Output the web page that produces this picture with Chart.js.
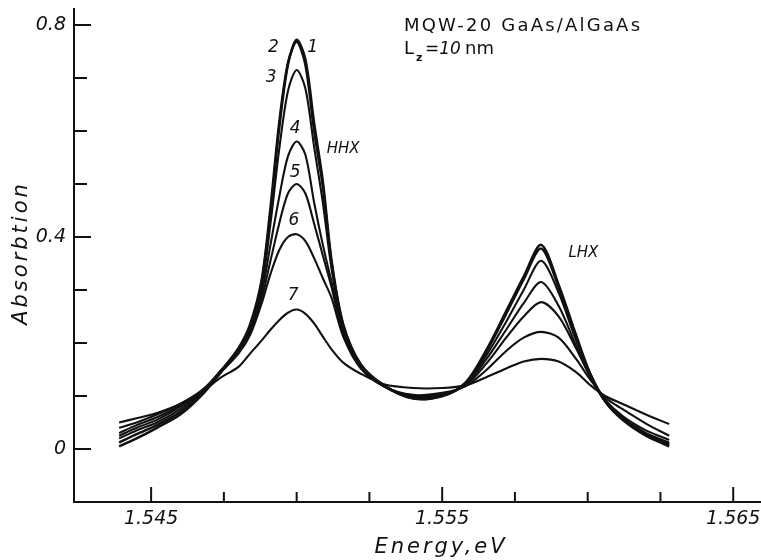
<!DOCTYPE html>
<html>
<head>
<meta charset="utf-8">
<script src="https://cdn.jsdelivr.net/npm/chart.js"></script>
<style>
  html, body { margin: 0; padding: 0; background: #fff; }
  #wrap { width: 761px; height: 560px; }
</style>
</head>
<body>
<div id="wrap"><canvas id="chart" width="761" height="560"></canvas></div>
<script>
// photon energy, eV (shared grid for all spectra)
const energy = [1.5439, 1.5445, 1.5452, 1.5460, 1.5468, 1.5474, 1.5480, 1.5484, 1.5488, 1.5491,
                1.5494, 1.5497, 1.5500, 1.5503, 1.5506, 1.5509, 1.5512, 1.5516, 1.5522, 1.5530,
                1.5540, 1.5550, 1.5558, 1.5565, 1.5572, 1.5578, 1.5584, 1.5590, 1.5596, 1.5601,
                1.5606, 1.5612, 1.5620, 1.5628];

// absorption curves 1..7
const curve1 = [0.005, 0.020, 0.040, 0.065, 0.105, 0.145, 0.188, 0.230, 0.315, 0.445,
                0.605, 0.725, 0.772, 0.735, 0.615, 0.505, 0.355, 0.235, 0.160, 0.120,
                0.095, 0.100, 0.125, 0.185, 0.260, 0.325, 0.385, 0.310, 0.215, 0.140,
                0.090, 0.055, 0.025, 0.005];
const curve2 = [0.012, 0.028, 0.045, 0.070, 0.108, 0.147, 0.190, 0.235, 0.320, 0.455,
                0.615, 0.728, 0.768, 0.725, 0.600, 0.495, 0.350, 0.233, 0.159, 0.120,
                0.096, 0.100, 0.124, 0.182, 0.255, 0.320, 0.378, 0.305, 0.210, 0.140,
                0.090, 0.056, 0.027, 0.008];
const curve3 = [0.020, 0.035, 0.050, 0.075, 0.110, 0.148, 0.188, 0.230, 0.305, 0.425,
                0.565, 0.675, 0.715, 0.680, 0.570, 0.465, 0.340, 0.228, 0.157, 0.118,
                0.097, 0.100, 0.123, 0.175, 0.240, 0.300, 0.355, 0.295, 0.205, 0.140,
                0.092, 0.058, 0.030, 0.010];
const curve4 = [0.025, 0.040, 0.055, 0.080, 0.112, 0.148, 0.186, 0.225, 0.295, 0.385,
                0.475, 0.552, 0.580, 0.555, 0.465, 0.385, 0.315, 0.222, 0.155, 0.118,
                0.098, 0.102, 0.122, 0.168, 0.225, 0.275, 0.315, 0.270, 0.195, 0.135,
                0.090, 0.058, 0.030, 0.012];
const curve5 = [0.030, 0.045, 0.060, 0.082, 0.113, 0.148, 0.185, 0.222, 0.285, 0.355,
                0.425, 0.482, 0.500, 0.482, 0.425, 0.365, 0.305, 0.217, 0.153, 0.118,
                0.100, 0.104, 0.120, 0.160, 0.210, 0.250, 0.277, 0.250, 0.190, 0.135,
                0.093, 0.062, 0.035, 0.017];
const curve6 = [0.040, 0.050, 0.065, 0.085, 0.113, 0.145, 0.180, 0.215, 0.275, 0.330,
                0.375, 0.400, 0.405, 0.392, 0.360, 0.322, 0.285, 0.212, 0.152, 0.118,
                0.102, 0.106, 0.118, 0.148, 0.185, 0.210, 0.221, 0.210, 0.170, 0.130,
                0.097, 0.075, 0.048, 0.025];
const curve7 = [0.050, 0.058, 0.068, 0.085, 0.110, 0.135, 0.155, 0.180, 0.205, 0.225,
                0.243, 0.257, 0.263, 0.255, 0.237, 0.212, 0.188, 0.163, 0.142, 0.122,
                0.115, 0.115, 0.120, 0.135, 0.152, 0.165, 0.170, 0.165, 0.145, 0.120,
                0.100, 0.085, 0.065, 0.047];

const xLabelTicks = [1.545, 1.555, 1.565];
const xMinorTicks = [1.5475, 1.550, 1.5525, 1.5575, 1.560, 1.5625];
const yLabelTicks = [0, 0.4, 0.8];
const yMinorTicks = [0.1, 0.2, 0.3, 0.5, 0.6, 0.7];

// curve numbers and peak names: [text, energy, absorption, size]
const curveLabels = [
  ['2', 1.54920, 0.758, 17], ['1', 1.55055, 0.758, 17], ['3', 1.54912, 0.700, 17],
  ['4', 1.54995, 0.605, 17], ['5', 1.54995, 0.522, 17], ['6', 1.54991, 0.430, 17],
  ['7', 1.54988, 0.290, 17], ['HHX', 1.55160, 0.566, 15], ['LHX', 1.55985, 0.370, 15]
];

const series = [curve1, curve2, curve3, curve4, curve5, curve6, curve7];
const FONT = '"DejaVu Sans", sans-serif';

const datasets = series.map((c, i) => ({
  label: String(i + 1),
  data: energy.map((e, k) => ({ x: e, y: c[k] })),
  borderColor: '#111',
  borderWidth: i < 2 ? 2.5 : 2.1,
  pointRadius: 0,
  fill: false,
  tension: 0.3
}));

// inward tick marks, axis titles and text annotations
const decor = {
  id: 'decor',
  afterDraw(chart) {
    const ctx = chart.ctx;
    const xs = chart.scales.x, ys = chart.scales.y;
    const a = chart.chartArea;
    ctx.save();
    ctx.strokeStyle = '#111';
    ctx.lineWidth = 2;
    ctx.beginPath();
    xLabelTicks.forEach(v => { const p = xs.getPixelForValue(v); ctx.moveTo(p, a.bottom); ctx.lineTo(p, a.bottom - 15); });
    xMinorTicks.forEach(v => { const p = xs.getPixelForValue(v); ctx.moveTo(p, a.bottom); ctx.lineTo(p, a.bottom - 10); });
    yLabelTicks.forEach(v => { const p = ys.getPixelForValue(v); ctx.moveTo(a.left, p); ctx.lineTo(a.left + 17, p); });
    yMinorTicks.forEach(v => { const p = ys.getPixelForValue(v); ctx.moveTo(a.left, p); ctx.lineTo(a.left + 13, p); });
    ctx.stroke();

    ctx.fillStyle = '#111';
    ctx.textAlign = 'center';
    ctx.textBaseline = 'middle';
    curveLabels.forEach(([t, e, v, s]) => {
      ctx.font = 'italic ' + s + 'px ' + FONT;
      ctx.fillText(t, xs.getPixelForValue(e), ys.getPixelForValue(v));
    });

    // axis titles
    ctx.font = 'italic 21px ' + FONT;
    ctx.letterSpacing = '3px';
    ctx.textBaseline = 'alphabetic';
    ctx.fillText('Energy,eV', 441, 553);
    ctx.save();
    ctx.translate(27, 253);
    ctx.rotate(-Math.PI / 2);
    ctx.fillText('Absorbtion', 0, 0);
    ctx.restore();

    ctx.textAlign = 'left';
    ctx.font = '18px ' + FONT;
    ctx.letterSpacing = '2.2px';
    ctx.fillText('MQW-20 GaAs/AlGaAs', 404, 31);
    ctx.letterSpacing = '0px';
    ctx.fillText('L', 404, 54);
    ctx.font = 'bold 11px ' + FONT;
    ctx.fillText('z', 416, 61);
    ctx.font = 'italic 17px ' + FONT;
    ctx.fillText('=10', 425, 54);
    ctx.font = '18px ' + FONT;
    ctx.fillText('nm', 465, 54);
    ctx.restore();
  }
};

new Chart(document.getElementById('chart'), {
  type: 'line',
  data: { datasets },
  options: {
    responsive: false,
    animation: false,
    layout: { padding: { top: 9, right: 1, left: 0, bottom: 0 } },
    plugins: { legend: { display: false }, tooltip: { enabled: false } },
    scales: {
      x: {
        type: 'linear',
        min: 1.54235,
        max: 1.56592,
        afterBuildTicks: s => { s.ticks = xLabelTicks.map(v => ({ value: v })); },
        afterFit: s => { s.height = 58; s.paddingLeft = 0; s.paddingRight = 0; },
        grid: { display: false, drawTicks: false },
        border: { display: true, color: '#111', width: 2 },
        ticks: {
          padding: 6,
          color: '#111',
          maxRotation: 0,
          font: { family: FONT, size: 19, style: 'italic' },
          callback: v => v.toFixed(3)
        }
      },
      y: {
        min: -0.1,
        max: 0.83,
        afterBuildTicks: s => { s.ticks = yLabelTicks.map(v => ({ value: v })); },
        afterFit: s => { s.width = 74; s.paddingTop = 0; s.paddingBottom = 0; },
        grid: { display: false, drawTicks: false },
        border: { display: true, color: '#111', width: 2 },
        ticks: {
          padding: 8,
          color: '#111',
          font: { family: FONT, size: 19, style: 'italic' },
          callback: v => String(v)
        }
      }
    }
  },
  plugins: [decor]
});
</script>
</body>
</html>
